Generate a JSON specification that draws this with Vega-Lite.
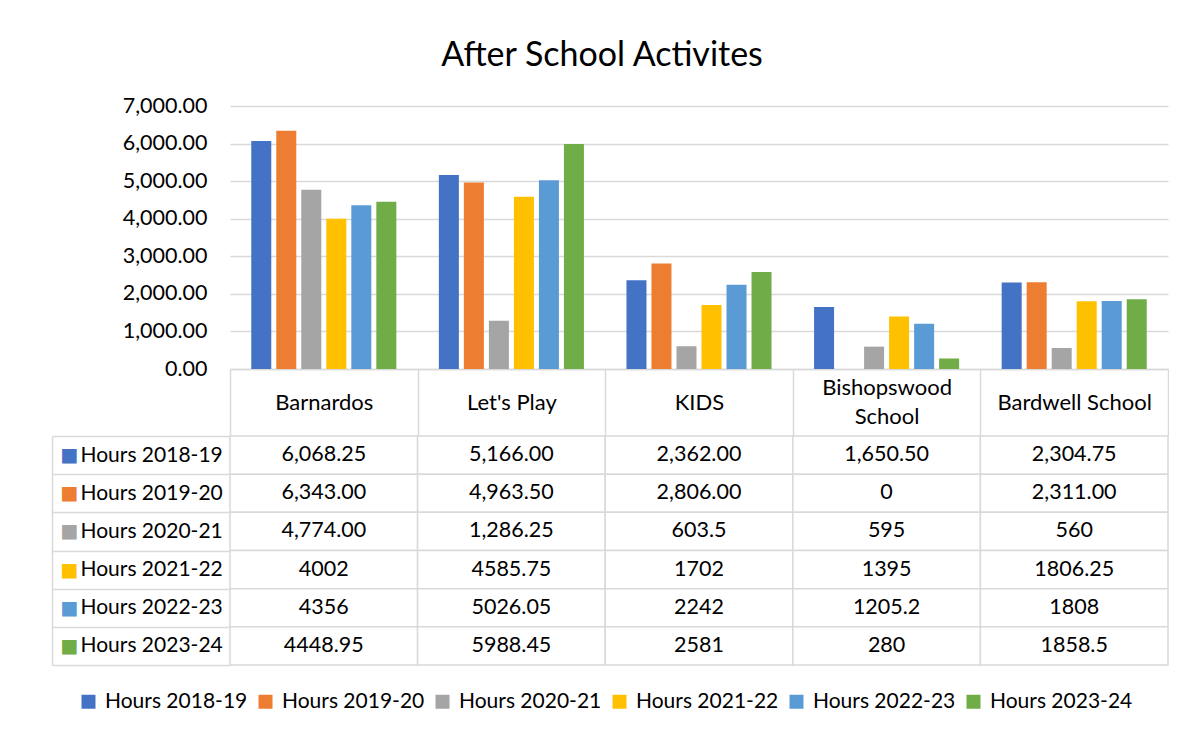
{
  "$schema": "https://vega.github.io/schema/vega-lite/v6.json",
  "padding": {"left": 51, "top": 39, "right": 0, "bottom": 0},
  "background": "white",
  "spacing": -12,
  "title": {"text": "After School Activites", "font": "Lato", "fontSize": 34, "fontWeight": "normal", "color": "black", "anchor": "middle", "offset": 22, "dx": -8},
  "config": {"view": {"stroke": null}, "font": "Lato", "concat": {"spacing": 0}},
  "data": {"values": [
    {"category": "Barnardos", "series": "Hours 2018-19", "hours": 6068.25, "label": "6,068.25"},
    {"category": "Barnardos", "series": "Hours 2019-20", "hours": 6343, "label": "6,343.00"},
    {"category": "Barnardos", "series": "Hours 2020-21", "hours": 4774, "label": "4,774.00"},
    {"category": "Barnardos", "series": "Hours 2021-22", "hours": 4002, "label": "4002"},
    {"category": "Barnardos", "series": "Hours 2022-23", "hours": 4356, "label": "4356"},
    {"category": "Barnardos", "series": "Hours 2023-24", "hours": 4448.95, "label": "4448.95"},
    {"category": "Let's Play", "series": "Hours 2018-19", "hours": 5166, "label": "5,166.00"},
    {"category": "Let's Play", "series": "Hours 2019-20", "hours": 4963.5, "label": "4,963.50"},
    {"category": "Let's Play", "series": "Hours 2020-21", "hours": 1286.25, "label": "1,286.25"},
    {"category": "Let's Play", "series": "Hours 2021-22", "hours": 4585.75, "label": "4585.75"},
    {"category": "Let's Play", "series": "Hours 2022-23", "hours": 5026.05, "label": "5026.05"},
    {"category": "Let's Play", "series": "Hours 2023-24", "hours": 5988.45, "label": "5988.45"},
    {"category": "KIDS", "series": "Hours 2018-19", "hours": 2362, "label": "2,362.00"},
    {"category": "KIDS", "series": "Hours 2019-20", "hours": 2806, "label": "2,806.00"},
    {"category": "KIDS", "series": "Hours 2020-21", "hours": 603.5, "label": "603.5"},
    {"category": "KIDS", "series": "Hours 2021-22", "hours": 1702, "label": "1702"},
    {"category": "KIDS", "series": "Hours 2022-23", "hours": 2242, "label": "2242"},
    {"category": "KIDS", "series": "Hours 2023-24", "hours": 2581, "label": "2581"},
    {"category": "Bishopswood School", "series": "Hours 2018-19", "hours": 1650.5, "label": "1,650.50"},
    {"category": "Bishopswood School", "series": "Hours 2019-20", "hours": 0, "label": "0"},
    {"category": "Bishopswood School", "series": "Hours 2020-21", "hours": 595, "label": "595"},
    {"category": "Bishopswood School", "series": "Hours 2021-22", "hours": 1395, "label": "1395"},
    {"category": "Bishopswood School", "series": "Hours 2022-23", "hours": 1205.2, "label": "1205.2"},
    {"category": "Bishopswood School", "series": "Hours 2023-24", "hours": 280, "label": "280"},
    {"category": "Bardwell School", "series": "Hours 2018-19", "hours": 2304.75, "label": "2,304.75"},
    {"category": "Bardwell School", "series": "Hours 2019-20", "hours": 2311, "label": "2,311.00"},
    {"category": "Bardwell School", "series": "Hours 2020-21", "hours": 560, "label": "560"},
    {"category": "Bardwell School", "series": "Hours 2021-22", "hours": 1806.25, "label": "1806.25"},
    {"category": "Bardwell School", "series": "Hours 2022-23", "hours": 1808, "label": "1808"},
    {"category": "Bardwell School", "series": "Hours 2023-24", "hours": 1858.5, "label": "1858.5"}
  ]},
  "resolve": {"scale": {"x": "independent", "y": "independent", "color": "shared"}},
  "vconcat": [
    {
      "width": 938,
      "height": 263,
      "mark": {"type": "bar"},
      "encoding": {
        "x": {"field": "category", "type": "nominal",
          "sort": ["Barnardos", "Let's Play", "KIDS", "Bishopswood School", "Bardwell School"],
          "scale": {"paddingInner": 0, "paddingOuter": 0},
          "axis": {"title": null, "orient": "bottom", "domain": true, "domainColor": "#D9D9D9", "domainWidth": 1.5,
            "ticks": true, "tickBand": "extent", "tickSize": 66, "tickColor": "#D9D9D9", "tickWidth": 1.5,
            "labelAngle": 0, "labelPadding": -33,
            "labelBaseline": {"condition": {"test": "length(datum.label) > 16", "value": "line-bottom"}, "value": "middle"},
            "labelFont": "Lato", "labelFontSize": 22,
            "labelColor": "black", "labelLimit": 0, "labelLineHeight": 29,
            "labelExpr": "length(datum.label) > 16 ? split(datum.label, ' ') : datum.label", "grid": false}},
        "xOffset": {"field": "series", "type": "nominal",
          "scale": {"paddingInner": 0.2, "paddingOuter": 0.85}},
        "y": {"field": "hours", "type": "quantitative",
          "scale": {"domain": [0, 7000]},
          "axis": {"title": null, "format": ",.2f", "values": [0, 1000, 2000, 3000, 4000, 5000, 6000, 7000],
            "domain": false, "ticks": false, "labelPadding": 23, "labelFont": "Lato", "labelFontSize": 21.5,
            "labelColor": "black", "gridColor": "#D9D9D9", "gridWidth": 1.5}},
        "color": {"field": "series", "type": "nominal",
          "scale": {"domain": ["Hours 2018-19", "Hours 2019-20", "Hours 2020-21", "Hours 2021-22", "Hours 2022-23", "Hours 2023-24"],
            "range": ["#4472C4", "#ED7D31", "#A5A5A5", "#FFC000", "#5B9BD5", "#70AD47"]},
          "legend": {"title": null, "orient": "none", "direction": "horizontal", "legendX": -152, "legendY": 585,
            "symbolType": "square", "symbolSize": 196, "symbolStrokeWidth": 0, "symbolOpacity": 1,
            "labelFont": "Lato", "labelFontSize": 21, "labelColor": "black", "labelOffset": 6, "columnPadding": 7,
            "labelLimit": 0, "padding": 0}}
      }
    },
    {
      "width": 938,
      "height": 229,
      "layer": [
        {
          "mark": {"type": "rect", "fill": "white", "stroke": "#D9D9D9", "strokeWidth": 1.5},
          "encoding": {
            "x": {"field": "category", "type": "nominal",
              "sort": ["Barnardos", "Let's Play", "KIDS", "Bishopswood School", "Bardwell School"],
              "scale": {"paddingInner": 0, "paddingOuter": 0}, "axis": null},
            "y": {"field": "series", "type": "nominal",
              "scale": {"paddingInner": 0, "paddingOuter": 0},
              "axis": {"title": null, "orient": "left", "offset": 178, "domain": true, "domainColor": "#D9D9D9", "domainWidth": 1.5,
                "ticks": true, "tickBand": "extent", "tickSize": -178, "tickColor": "#D9D9D9", "tickWidth": 1.5,
                "labelAlign": "left", "labelPadding": 150, "labelFont": "Lato", "labelFontSize": 21, "labelColor": "black",
                "labelLimit": 0, "grid": false}}
          }
        },
        {
          "mark": {"type": "text", "font": "Lato", "fontSize": 21.5, "color": "black"},
          "encoding": {
            "x": {"field": "category", "type": "nominal",
              "sort": ["Barnardos", "Let's Play", "KIDS", "Bishopswood School", "Bardwell School"], "axis": null},
            "y": {"field": "series", "type": "nominal",
              "axis": {"title": null, "orient": "left", "offset": 178, "domain": false, "ticks": false, "grid": false,
                "labelExpr": "'■'", "labelAlign": "left", "labelPadding": -8, "labelFont": "DejaVu Sans", "labelFontSize": 19,
                "labelColor": {"condition": [
                  {"test": "datum.value === 'Hours 2018-19'", "value": "#4472C4"},
                  {"test": "datum.value === 'Hours 2019-20'", "value": "#ED7D31"},
                  {"test": "datum.value === 'Hours 2020-21'", "value": "#A5A5A5"},
                  {"test": "datum.value === 'Hours 2021-22'", "value": "#FFC000"},
                  {"test": "datum.value === 'Hours 2022-23'", "value": "#5B9BD5"}
                ], "value": "#70AD47"}}},
            "text": {"field": "label"}
          }
        }
      ],
      "resolve": {"axis": {"y": "independent"}}
    }
  ]
}
